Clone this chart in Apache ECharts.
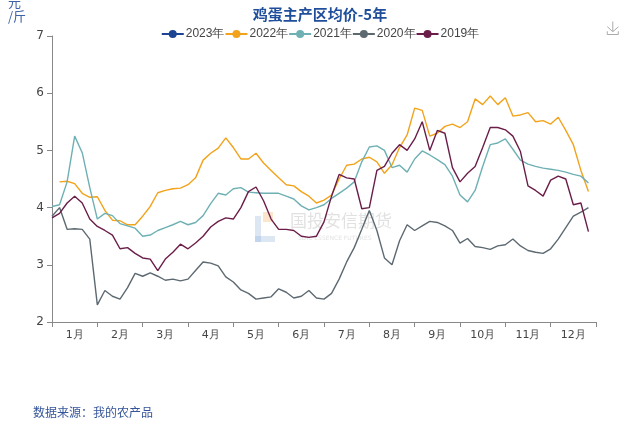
<!DOCTYPE html>
<html>
<head>
<meta charset="utf-8">
<script src="https://cdn.jsdelivr.net/npm/echarts@6/dist/echarts.min.js"></script>
<style>html,body{margin:0;padding:0;background:#fff}#c{width:640px;height:426px}</style>
</head>
<body>
<div id="c"></div>
<script>
// x axis categories (month labels)
var months = ['1月','2月','3月','4月','5月','6月','7月','8月','9月','10月','11月','12月'];
// sampling step: 6 samples per month (about 5 days)
var samplesPerMonth = 6;
var seriesNames = ['2023年','2022年','2021年','2020年','2019年'];

var y2023 = [];
var y2022 = [null,4.45,4.46,4.42,4.25,4.18,4.19,3.95,3.78,3.77,3.7,3.7,3.85,4.02,4.26,4.3,4.33,4.34,4.4,4.52,
  4.83,4.95,5.04,5.22,5.05,4.85,4.85,4.95,4.78,4.65,4.52,4.4,4.38,4.28,4.2,4.08,4.13,4.22,4.5,4.74,
  4.76,4.85,4.88,4.8,4.6,4.75,5.05,5.27,5.74,5.7,5.25,5.3,5.42,5.46,5.4,5.5,5.9,5.8,5.95,5.8,
  5.92,5.6,5.62,5.66,5.5,5.52,5.46,5.58,5.35,5.1,4.65,4.28];
var y2021 = [4.02,4.05,4.45,5.25,4.96,4.35,3.8,3.9,3.86,3.72,3.68,3.64,3.5,3.52,3.6,3.65,3.7,3.76,3.7,3.74,
  3.86,4.07,4.25,4.22,4.33,4.35,4.27,4.26,4.25,4.25,4.25,4.2,4.15,4.03,3.96,4.0,4.05,4.16,4.25,4.34,
  4.45,4.8,5.06,5.08,5.0,4.7,4.74,4.62,4.85,4.99,4.92,4.84,4.75,4.55,4.22,4.1,4.3,4.72,5.1,5.13,
  5.2,5.02,4.83,4.76,4.72,4.69,4.67,4.65,4.62,4.58,4.55,4.43];
var y2020 = [3.85,4.0,3.62,3.63,3.62,3.45,2.3,2.55,2.45,2.4,2.6,2.85,2.8,2.86,2.8,2.73,2.75,2.72,2.75,2.9,
  3.05,3.03,2.98,2.79,2.7,2.56,2.5,2.4,2.42,2.44,2.58,2.52,2.42,2.45,2.55,2.42,2.4,2.5,2.75,3.05,
  3.3,3.62,3.95,3.6,3.12,3.0,3.42,3.7,3.6,3.68,3.76,3.74,3.68,3.6,3.38,3.46,3.32,3.3,3.27,3.33,
  3.35,3.45,3.33,3.25,3.22,3.2,3.28,3.45,3.65,3.85,3.92,4.0];
var y2019 = [3.82,3.9,4.08,4.2,4.08,3.8,3.67,3.6,3.52,3.28,3.3,3.2,3.12,3.1,2.9,3.1,3.22,3.36,3.28,3.38,
  3.5,3.66,3.76,3.82,3.8,4.0,4.28,4.36,4.12,3.8,3.62,3.62,3.6,3.5,3.48,3.5,3.75,4.2,4.58,4.52,
  4.5,3.98,4.0,4.65,4.72,4.95,5.1,5.0,5.2,5.5,5.0,5.35,5.3,4.7,4.45,4.6,4.72,5.05,5.4,5.4,
  5.36,5.25,4.98,4.38,4.3,4.2,4.48,4.55,4.5,4.05,4.08,3.58];

var colors = ['#1b4593','#f2a31b','#6eb0b3','#5d6971','#6b1d49'];
var yData = [y2023,y2022,y2021,y2020,y2019];

function toPoints(arr){
  return arr.map(function(v,i){ return [i, v]; });
}

var chart = echarts.init(document.getElementById('c'), null, {renderer:'canvas'});
var series = seriesNames.map(function(n, k){
  return {
    name: n, type: 'line', xAxisIndex: 1, yAxisIndex: 0,
    data: toPoints(yData[k]),
    showSymbol: false, symbol: 'circle', symbolSize: 7,
    lineStyle: {width: 1.4, color: colors[k]},
    itemStyle: {color: colors[k]},
    connectNulls: false
  };
});

chart.setOption({
  animation: false,
  backgroundColor: '#fff',
  color: colors,
  title: {
    text: '鸡蛋主产区均价-5年', left: 'center', top: 2,
    textStyle: {fontSize: 15, fontWeight: 'bold', color: '#1f4e9b', fontFamily: 'Noto Sans CJK SC'}
  },
  legend: {
    top: 23, left: 'center', itemGap: 0, itemWidth: 22, itemHeight: 10,
    textStyle: {fontSize: 12, color: '#444', fontFamily: 'Liberation Sans', padding: [0, 0, 0, -3]},
    data: seriesNames.map(function(n){ return {name: n}; })
  },
  toolbox: {
    right: 4, top: 4, itemSize: 13,
    iconStyle: {borderColor: '#aaa'},
    feature: {saveAsImage: {}}
  },
  grid: {left: 52, right: 44, top: 36, bottom: 104},
  xAxis: [{
    type: 'category', data: months, boundaryGap: true,
    axisLine: {lineStyle: {color: '#888'}},
    axisTick: {show: true, alignWithLabel: false, lineStyle: {color: '#888'}},
    axisLabel: {color: '#444', fontSize: 11, margin: 8, fontFamily: 'DejaVu Sans'}
  },{
    type: 'value', min: 0, max: months.length * samplesPerMonth, show: false
  }],
  yAxis: {
    type: 'value', min: 2, max: 7, interval: 1,
    axisLine: {show: true, lineStyle: {color: '#888'}},
    axisTick: {show: true, lineStyle: {color: '#888'}},
    splitLine: {show: false},
    axisLabel: {color: '#444', fontSize: 12, fontFamily: 'DejaVu Sans'}
  },
  graphic: [
    {type: 'text', left: 8, top: -5, style: {text: '元\n/斤', fill: '#3d62a6', font: '13px "Noto Sans CJK SC"', lineHeight: 14}},
    {type: 'text', left: 33, top: 406, style: {text: '数据来源：我的农产品', fill: '#35559a', font: '12px "Noto Sans CJK SC"'}},
    {type: 'rect', left: 255, top: 216, shape: {width: 6, height: 26}, style: {fill: 'rgba(120,160,210,0.25)'}, z: 0},
    {type: 'rect', left: 255, top: 236, shape: {width: 20, height: 6}, style: {fill: 'rgba(120,160,210,0.25)'}, z: 0},
    {type: 'rect', left: 263, top: 212, shape: {width: 10, height: 10}, style: {fill: 'rgba(245,170,90,0.3)'}, z: 0},
    {type: 'text', left: 290, top: 212, style: {text: '国投安信期货', fill: 'rgba(170,170,170,0.35)', font: '17px "Noto Sans CJK SC"'}, z: 0},
    {type: 'text', left: 298, top: 235, style: {text: 'SDIC ESSENCE FUTURES', fill: 'rgba(170,170,170,0.35)', font: '6px "DejaVu Sans"'}, z: 0}
  ],
  series: series
});
</script>
</body>
</html>
